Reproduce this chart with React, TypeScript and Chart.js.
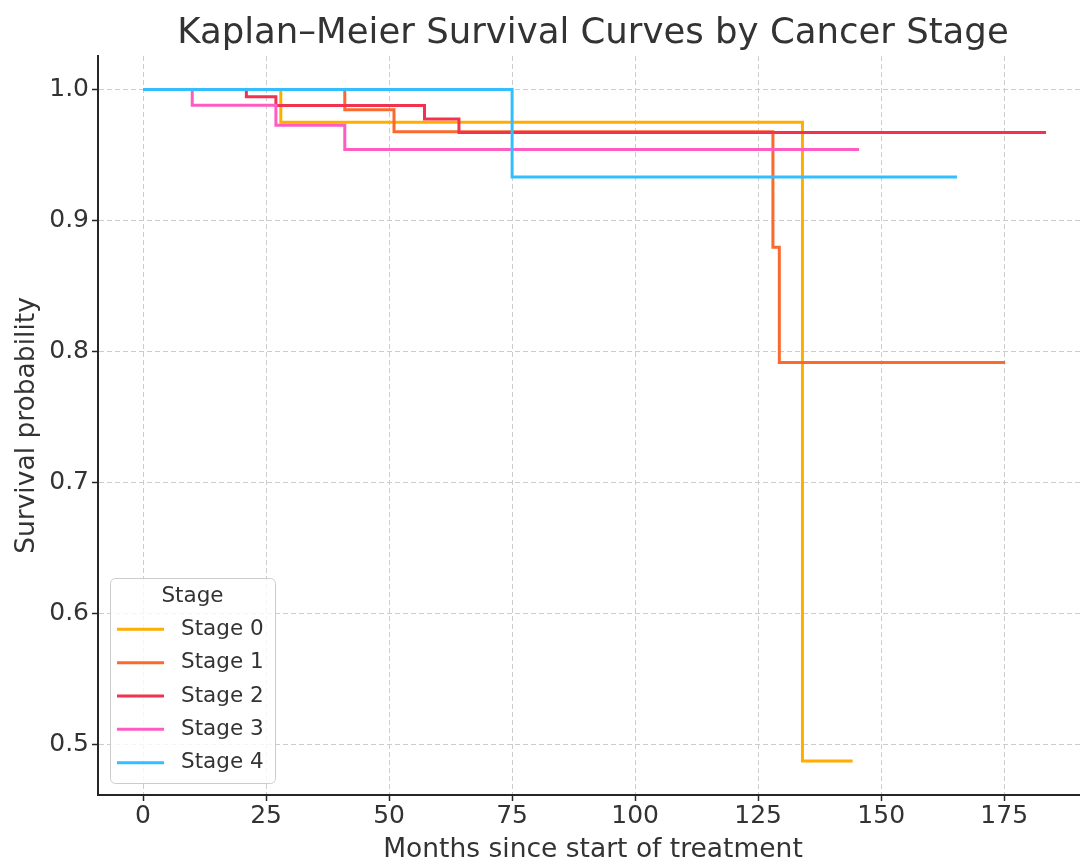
import React, { useEffect, useRef } from "react";
import { Chart, registerables } from "chart.js";

Chart.register(...registerables);

const chartTitle = "Kaplan–Meier Survival Curves by Cancer Stage";
const xAxisLabel = "Months since start of treatment";
const yAxisLabel = "Survival probability";
const legendTitle = "Stage";

const stageLabels = ["Stage 0", "Stage 1", "Stage 2", "Stage 3", "Stage 4"];
const stageColors = ["#FFAE00", "#FA6A2C", "#F2334F", "#FF5CC3", "#33BFFF"];

const stage0Months = [0, 28, 134, 144.2];
const stage0Survival = [1, 0.975, 0.4875, 0.4875];

const stage1Months = [0, 41, 51, 128, 129.3, 175.2];
const stage1Survival = [1, 0.9846, 0.9677, 0.8797, 0.7917, 0.7917];

const stage2Months = [0, 21, 27, 57.2, 64.2, 183.5];
const stage2Survival = [1, 0.9944, 0.9878, 0.9776, 0.9672, 0.9672];

const stage3Months = [0, 10, 27, 41, 145.5];
const stage3Survival = [1, 0.988, 0.9728, 0.9543, 0.9543];

const stage4Months = [0, 75, 165.4];
const stage4Survival = [1, 0.9333, 0.9333];

const xTicks = [0, 25, 50, 75, 100, 125, 150, 175];
const yTicks = [0.5, 0.6, 0.7, 0.8, 0.9, 1.0];

const allMonths = [stage0Months, stage1Months, stage2Months, stage3Months, stage4Months];
const allSurvival = [stage0Survival, stage1Survival, stage2Survival, stage3Survival, stage4Survival];

const TEXT = "#333333";
const FONT = '"DejaVu Sans", sans-serif';

const overlayPlugin = {
  id: "overlay",
  afterDraw(chart: any) {
    const ctx = chart.ctx as CanvasRenderingContext2D;
    ctx.save();
    // title
    ctx.font = `35.5px ${FONT}`;
    ctx.fillStyle = TEXT;
    ctx.textAlign = "center";
    ctx.textBaseline = "middle";
    ctx.fillText(chartTitle, 593, 34);

    // x axis title
    ctx.font = `26.5px ${FONT}`;
    ctx.fillText(xAxisLabel, 593, 850);

    // legend box
    const bx = 110.5, by = 578.5, bw = 165, bh = 205;
    ctx.beginPath();
    (ctx as any).roundRect(bx, by, bw, bh, 5);
    ctx.fillStyle = "rgba(255,255,255,0.8)";
    ctx.fill();
    ctx.strokeStyle = "#cccccc";
    ctx.lineWidth = 1;
    ctx.stroke();

    ctx.font = `21.5px ${FONT}`;
    ctx.fillStyle = TEXT;
    ctx.textAlign = "center";
    ctx.fillText(legendTitle, 192.5, 596);
    chart.data.datasets.forEach((ds: any, i: number) => {
      const y = 629.3 + i * 33.35;
      ctx.strokeStyle = ds.borderColor;
      ctx.lineWidth = 3;
      ctx.beginPath();
      ctx.moveTo(117, y);
      ctx.lineTo(164, y);
      ctx.stroke();
      ctx.fillStyle = TEXT;
      ctx.textAlign = "left";
      ctx.fillText(ds.label, 181, y);
    });
    ctx.restore();
  },
};

export default function App() {
  const canvasRef = useRef<HTMLCanvasElement | null>(null);

  useEffect(() => {
    if (!canvasRef.current) return;
    const datasets = stageLabels.map((label, i) => ({
      label,
      data: allMonths[i].map((m, j) => ({ x: m, y: allSurvival[i][j] })),
      borderColor: stageColors[i],
      backgroundColor: stageColors[i],
      borderWidth: 3,
      pointRadius: 0,
      fill: false,
      stepped: "before" as const,
      order: stageLabels.length - 1 - i,
      borderCapStyle: "butt" as const,
      borderJoinStyle: "miter" as const,
    }));

    const chart = new Chart(canvasRef.current, {
      type: "line",
      data: { datasets },
      plugins: [overlayPlugin],
      options: {
        animation: false,
        responsive: false,
        devicePixelRatio: 1,
        events: [],
        layout: { padding: { top: 56, left: 0, right: 0, bottom: 0 } },
        plugins: {
          legend: { display: false },
          title: { display: false },
          tooltip: { enabled: false },
        },
        scales: {
          x: {
            type: "linear",
            min: -9.15,
            max: 190.4,
            afterBuildTicks: (scale: any) => {
              scale.ticks = xTicks.map((v) => ({ value: v }));
            },
            afterFit: (scale: any) => {
              scale.height = 66;
            },
            ticks: {
              color: TEXT,
              font: { family: FONT, size: 25, lineHeight: 1 },
              padding: 3,
              maxRotation: 0,
              callback: (v: any) => String(v),
            },
            grid: {
              color: "#cccccc",
              lineWidth: 1,
              tickColor: "#262626",
              tickLength: 6,
              tickWidth: 1.5,
            },
            border: { display: true, color: "#262626", width: 2, dash: [5, 3] },
            title: { display: false },
          },
          y: {
            type: "linear",
            min: 0.4615,
            max: 1.0256,
            afterBuildTicks: (scale: any) => {
              scale.ticks = yTicks.map((v) => ({ value: v }));
            },
            afterFit: (scale: any) => {
              scale.width = 98;
            },
            ticks: {
              color: TEXT,
              font: { family: FONT, size: 25 },
              padding: 3,
              callback: (v: any) => Number(v).toFixed(1),
            },
            grid: {
              color: "#cccccc",
              lineWidth: 1,
              tickColor: "#262626",
              tickLength: 6,
              tickWidth: 1.5,
            },
            border: { display: true, color: "#262626", width: 2, dash: [5, 3] },
            title: {
              display: true,
              text: yAxisLabel,
              color: TEXT,
              font: { family: FONT, size: 26.5, lineHeight: 1 },
              padding: { top: 14, bottom: 0 },
            },
          },
        },
      },
    });
    return () => chart.destroy();
  }, []);

  return (
    <div style={{ position: "absolute", left: 0, top: 0, width: 1080, height: 861, background: "#ffffff" }}>
      <canvas ref={canvasRef} width={1080} height={861} />
    </div>
  );
}
